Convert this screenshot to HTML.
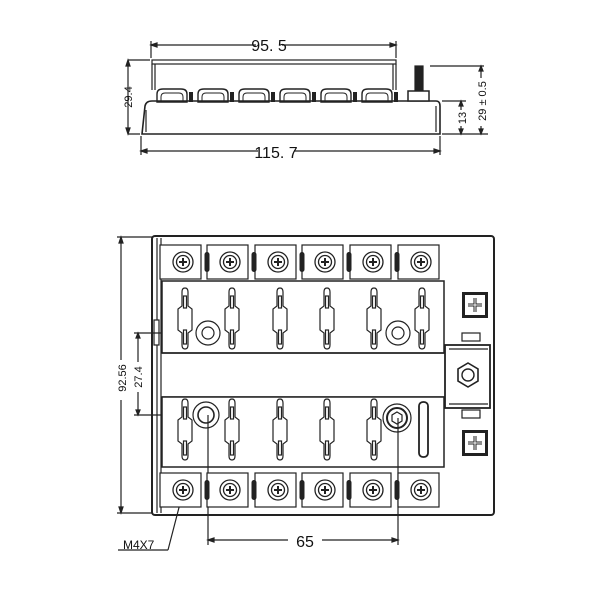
<!DOCTYPE html>
<html><head><meta charset="utf-8"><style>
html,body{margin:0;padding:0;background:#fff;width:600px;height:600px;overflow:hidden}
svg{display:block}
text{font-family:"Liberation Sans",sans-serif;fill:#111}
</style></head><body>
<svg width="600" height="600" viewBox="0 0 600 600" xmlns="http://www.w3.org/2000/svg">
<defs>
<g id="scr"><rect x="-23" y="-17" width="41" height="34" fill="#fff" stroke="#222" stroke-width="1.2"/><circle r="10" fill="none" stroke="#222" stroke-width="1.3"/><circle r="6.5" fill="none" stroke="#222" stroke-width="1.3"/><path d="M-4 0H4M0 -4V4" stroke="#222" stroke-width="2"/></g>
<rect id="slot" x="-2.5" y="-10" width="5" height="20" rx="2.5" fill="#222"/>
<g id="tab" fill="#fff" stroke="#222" stroke-width="1.2"><path d="M-3 0 Q-3 -4 0 -4 Q3 -4 3 0 V14 L7 17 V38 L3 41 V53 Q3 57 0 57 Q-3 57 -3 53 V41 L-7 38 V17 L-3 14 Z"/><rect x="-1.5" y="4" width="3" height="12"/><rect x="-1.5" y="38" width="3" height="14"/></g>
<g id="pl"><rect x="-13" y="-13" width="26" height="26" fill="#222"/><rect x="-10" y="-10" width="20" height="20" fill="#fff"/><path d="M-7 0H7M0 -7V7" stroke="#222" stroke-width="3"/><path d="M-7 0H7M0 -7V7" stroke="#fff" stroke-width="1"/></g>
<g id="tf"><path d="M0 14V6Q0 1 6 1H24Q30 1 30 6V14Z" fill="#fff" stroke="#222" stroke-width="1.4"/><path d="M4 14V9Q4 5 8 5H22Q26 5 26 9V14" fill="none" stroke="#222" stroke-width="1"/></g>
</defs>
<g stroke="#222" fill="none" stroke-width="1.2">
<!-- TOP VIEW -->
<path d="M151 41V58M396 41V58M151 45H256M282 45H396" />
<path d="M151 45l6 -2v4zM396 45l-6 -2v4z" fill="#222"/>
<rect x="152" y="60" width="244" height="4" fill="#fff"/>
<path d="M152 64V90M396 64V90M155 64V90M393 64V90"/>
<use href="#tf" x="157" y="88"/><use href="#tf" x="198" y="88"/><use href="#tf" x="239" y="88"/><use href="#tf" x="280" y="88"/><use href="#tf" x="321" y="88"/><use href="#tf" x="362" y="88"/>
<path d="M189 92h4v10h-4zM230 92h4v10h-4zM271 92h4v10h-4zM312 92h4v10h-4zM353 92h4v10h-4zM394 92h4v10h-4z" fill="#222" stroke="none"/>
<path d="M145 106Q146 101 152 101H436Q440 101 440 106V134H142Z" stroke-width="1.6"/>
<path d="M146 110V132M436 106V132"/>
<rect x="415" y="66" width="8" height="26" fill="#222"/>
<rect x="408" y="91" width="21" height="10" fill="#fff" stroke-width="1.5"/>
<path d="M128 60H150M128 134H140M128 62V132"/>
<path d="M128 60l-2 6h4zM128 134l-2 -6h4z" fill="#222"/>
<path d="M141 136V155M440 136V155M141 151H258M294 151H440"/>
<path d="M141 151l6 -2v4zM440 151l-6 -2v4z" fill="#222"/>
<path d="M430 66H484M442 101H466M442 134H488M461 101V110M461 126V134M481 66V78M481 126V134"/>
<path d="M461 101l-2 5h4zM461 134l-2 -5h4zM481 66l-2 5h4zM481 134l-2 -5h4z" fill="#222"/>
<!-- BOTTOM VIEW -->
<rect x="152" y="236" width="342" height="279" rx="3" stroke-width="2"/>
<path d="M157 238V513M161 238V513" />
<rect x="154" y="320" width="5" height="25" fill="#fff"/>
<path d="M117 237H152M117 513H152M121 240V360M121 400V512"/>
<path d="M121 237l-2 6h4zM121 513l-2 -6h4z" fill="#222"/>
<path d="M134 333H210M134 415H208M138 336V362M138 392V412"/>
<path d="M138 333l-2 5h4zM138 415l-2 -5h4z" fill="#222"/>
<rect x="162" y="281" width="282" height="72" fill="#fff" stroke-width="1.5"/>
<path d="M162 353H444M162 397H444" stroke-width="1.5"/>
<rect x="162" y="397" width="282" height="70" fill="#fff" stroke-width="1.5"/>
<rect x="445" y="345" width="45" height="63" fill="#fff" stroke-width="1.8"/>
<path d="M449 349H488M449 404H488"/>
<path d="M468 363L478 369V381L468 387L458 381V369Z" stroke-width="1.6"/>
<circle cx="468" cy="375" r="6" stroke-width="1.4"/>
<rect x="462" y="333" width="18" height="8"/>
<rect x="462" y="410" width="18" height="8"/>
<circle cx="208" cy="333" r="12"/><circle cx="208" cy="333" r="6"/>
<circle cx="398" cy="333" r="12"/><circle cx="398" cy="333" r="6"/>
<circle cx="206" cy="415" r="13"/><circle cx="206" cy="415" r="8" stroke-width="1.6"/>
<circle cx="397" cy="418" r="14"/><circle cx="397" cy="418" r="10" stroke-width="2"/><path d="M397 412l5 3v6l-5 3l-5-3v-6z"/>
<rect x="419" y="402" width="9" height="55" rx="4" fill="#fff" stroke-width="1.8"/>
<path d="M208 415V545M398 418V545M208 540H288M322 540H398M168 550H118M168 550L183 492"/>
<path d="M208 540l6 -2v4zM398 540l-6 -2v4z" fill="#222"/>
</g>
<use href="#scr" x="183" y="262"/><use href="#scr" x="230" y="262"/><use href="#scr" x="278" y="262"/><use href="#scr" x="325" y="262"/><use href="#scr" x="373" y="262"/><use href="#scr" x="421" y="262"/>
<use href="#scr" x="183" y="490"/><use href="#scr" x="230" y="490"/><use href="#scr" x="278" y="490"/><use href="#scr" x="325" y="490"/><use href="#scr" x="373" y="490"/><use href="#scr" x="421" y="490"/>
<use href="#slot" x="207" y="262"/><use href="#slot" x="254" y="262"/><use href="#slot" x="302" y="262"/><use href="#slot" x="349" y="262"/><use href="#slot" x="397" y="262"/>
<use href="#slot" x="207" y="490"/><use href="#slot" x="254" y="490"/><use href="#slot" x="302" y="490"/><use href="#slot" x="349" y="490"/><use href="#slot" x="397" y="490"/>
<use href="#tab" x="185" y="292"/><use href="#tab" x="232" y="292"/><use href="#tab" x="280" y="292"/><use href="#tab" x="327" y="292"/><use href="#tab" x="374" y="292"/><use href="#tab" x="422" y="292"/>
<use href="#tab" x="185" y="403"/><use href="#tab" x="232" y="403"/><use href="#tab" x="280" y="403"/><use href="#tab" x="327" y="403"/><use href="#tab" x="374" y="403"/>
<use href="#pl" x="475" y="305"/><use href="#pl" x="475" y="443"/>
<text x="269" y="51" font-size="16" text-anchor="middle">95. 5</text>
<text x="276" y="158" font-size="16" text-anchor="middle">115. 7</text>
<text x="305" y="547" font-size="16" text-anchor="middle">65</text>
<text x="123" y="549" font-size="12">M4X7</text>
<text transform="translate(132 97) rotate(-90)" font-size="11" text-anchor="middle">29.4</text>
<text transform="translate(466 118) rotate(-90)" font-size="11" text-anchor="middle">13</text>
<text transform="translate(486 101) rotate(-90)" font-size="11" text-anchor="middle">29 ± 0.5</text>
<text transform="translate(126 378) rotate(-90)" font-size="11" text-anchor="middle">92.56</text>
<text transform="translate(142 377) rotate(-90)" font-size="11" text-anchor="middle">27.4</text>
</svg>
</body></html>
